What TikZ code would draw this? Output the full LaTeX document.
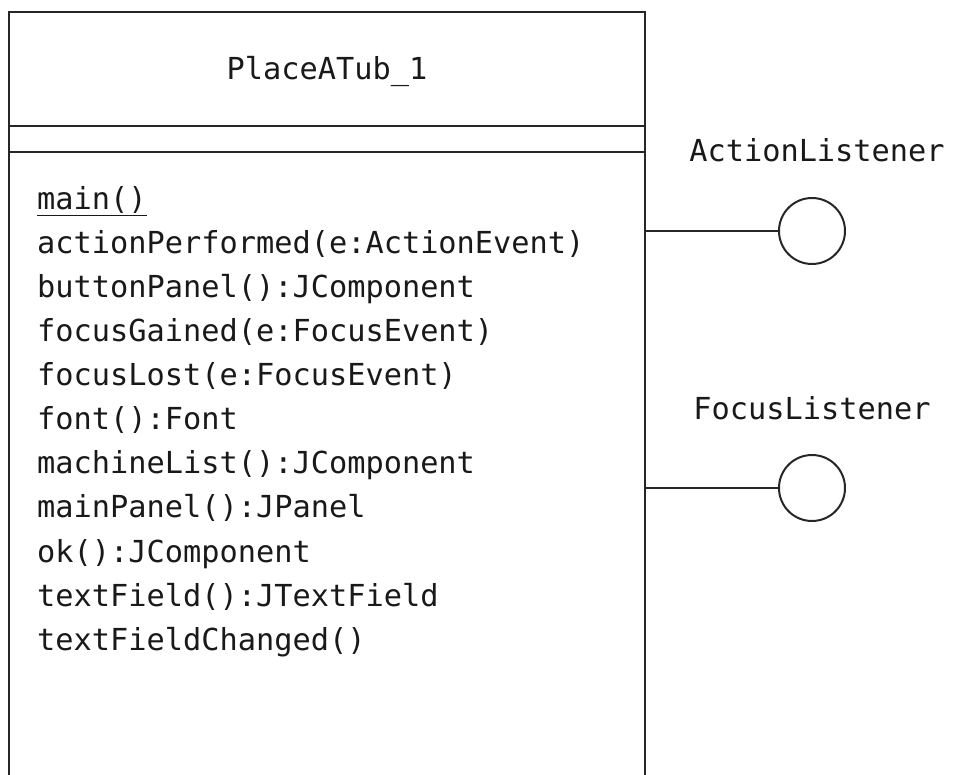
\documentclass[tikz,border=0pt]{standalone}
\usepackage{fontspec}
\setmonofont{DejaVu Sans Mono}
\begin{document}
\begin{tikzpicture}[x=1pt,y=-1pt,
  ln/.style={line width=2pt,draw=black!85},
  txt/.style={font=\ttfamily\fontsize{30.3}{34}\selectfont,text=black!90,inner sep=0pt},
  meth/.style={txt,anchor=base west},
  iface/.style={circle,ln,minimum size=66pt,inner sep=0pt}]
\useasboundingbox (0,0) rectangle (954,775);
% class box (open at the bottom, runs off the page)
\draw[ln] (9,790) -- (9,12) -- (645,12) -- (645,790);
\draw[ln] (9,126) -- (645,126);
\draw[ln] (9,152) -- (645,152);
\node[txt,anchor=base] (title) at (327,80) {PlaceATub\_1};
\node[meth] (m1) at (37,210) {\underline{main()}};
\node[meth] (m2) at (37,254) {actionPerformed(e:ActionEvent)};
\node[meth] (m3) at (37,298) {buttonPanel():JComponent};
\node[meth] (m4) at (37,342) {focusGained(e:FocusEvent)};
\node[meth] (m5) at (37,386) {focusLost(e:FocusEvent)};
\node[meth] (m6) at (37,430) {font():Font};
\node[meth] (m7) at (37,474) {machineList():JComponent};
\node[meth] (m8) at (37,518) {mainPanel():JPanel};
\node[meth] (m9) at (37,562) {ok():JComponent};
\node[meth] (m10) at (37,606) {textField():JTextField};
\node[meth] (m11) at (37,650) {textFieldChanged()};
% interfaces
\coordinate (pa) at (645,231);
\coordinate (pf) at (645,488);
\node[iface] (al) at (812,231) {};
\node[iface] (fl) at (812,488) {};
\draw[ln] (pa) -- (al);
\draw[ln] (pf) -- (fl);
\node[txt,anchor=base] (alt) at (817,162) {ActionListener};
\node[txt,anchor=base] (flt) at (812,420) {FocusListener};
\end{tikzpicture}
\end{document}
